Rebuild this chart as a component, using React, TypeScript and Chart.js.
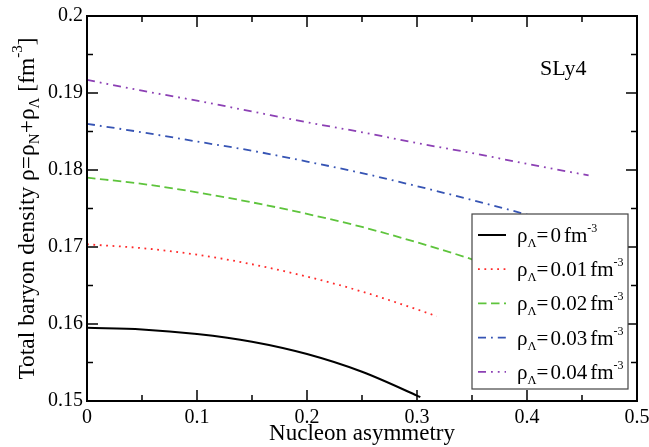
import { useEffect, useRef } from "react";
import { Chart, registerables } from "chart.js";

Chart.register(...registerables);

const FONT = '"Liberation Serif", "Times New Roman", serif';
Chart.defaults.font.family = FONT;

// ---- data ----
const xBlack = [0, 0.05, 0.1, 0.15, 0.2, 0.25, 0.3, 0.303];
const yBlack = [0.1595, 0.1593, 0.1587, 0.1577, 0.1561, 0.1538, 0.1507, 0.1505];

const xRed = [0, 0.05, 0.1, 0.15, 0.2, 0.25, 0.3, 0.318];
const yRed = [0.17035, 0.16985, 0.169, 0.16776, 0.16616, 0.16421, 0.1619, 0.161];

const xGreen = [0, 0.05, 0.1, 0.15, 0.2, 0.25, 0.3, 0.35, 0.4, 0.45];
const yGreen = [0.179, 0.1782, 0.1771, 0.1758, 0.1743, 0.1726, 0.1706, 0.1684, 0.1659, 0.1632];

const xBlue = [0, 0.05, 0.1, 0.15, 0.2, 0.25, 0.3, 0.35, 0.4, 0.45];
const yBlue = [0.186, 0.1849, 0.1837, 0.1825, 0.1811, 0.1796, 0.1779, 0.1761, 0.1742, 0.1721];

const xPurple = [0, 0.05, 0.1, 0.15, 0.2, 0.25, 0.3, 0.35, 0.4, 0.456];
const yPurple = [0.1917, 0.1903, 0.189, 0.1876, 0.1862, 0.1849, 0.1835, 0.1822, 0.1808, 0.1793];

const seriesLambda = ["0", "0.01", "0.02", "0.03", "0.04"];

const xTickValues = [0, 0.1, 0.2, 0.3, 0.4, 0.5];
const xTickLabels = ["0", "0.1", "0.2", "0.3", "0.4", "0.5"];
const xMinorTicks = [0.05, 0.15, 0.25, 0.35, 0.45];
const yTickValues = [0.15, 0.16, 0.17, 0.18, 0.19, 0.2];
const yTickLabels = ["0.15", "0.16", "0.17", "0.18", "0.19", "0.2"];
const yMinorTicks = [0.155, 0.165, 0.175, 0.185, 0.195];

// ---- styles ----
const seriesColors = ["#000000", "#ff2a2a", "#5ec43c", "#3654b4", "#8c40b4"];
const seriesDashes: number[][] = [[], [1.8, 4.6], [8.5, 4.5], [8, 5, 1.8, 5], [8, 5, 1.8, 5, 1.8, 5]];

type Part = { t: string; size: number; dy: number; gap?: number };

function drawRich(ctx: CanvasRenderingContext2D, parts: Part[], x: number, y: number, measureOnly = false) {
  let cx = x;
  for (const p of parts) {
    if (p.gap) {
      cx += p.gap;
      continue;
    }
    ctx.font = `${p.size}px ${FONT}`;
    if (!measureOnly) ctx.fillText(p.t, cx, y + p.dy);
    cx += ctx.measureText(p.t).width;
  }
  return cx - x;
}

const decorPlugin = {
  id: "decor",
  afterDraw(chart: any) {
    const { ctx, chartArea: a, scales } = chart;
    const xs = scales.x;
    const ys = scales.y;
    ctx.save();
    ctx.strokeStyle = "#000";
    ctx.fillStyle = "#000";
    ctx.lineWidth = 1.5;
    const seg = (x1: number, y1: number, x2: number, y2: number) => {
      ctx.beginPath();
      ctx.moveTo(x1, y1);
      ctx.lineTo(x2, y2);
      ctx.stroke();
    };
    const major = 11;
    const minor = 6;
    xTickValues.forEach((v) => {
      const p = xs.getPixelForValue(v);
      seg(p, a.bottom, p, a.bottom - major);
      seg(p, a.top, p, a.top + major);
    });
    xMinorTicks.forEach((v) => {
      const p = xs.getPixelForValue(v);
      seg(p, a.bottom, p, a.bottom - minor);
      seg(p, a.top, p, a.top + minor);
    });
    yTickValues.forEach((v) => {
      const p = ys.getPixelForValue(v);
      seg(a.left, p, a.left + major, p);
      seg(a.right, p, a.right - major, p);
    });
    yMinorTicks.forEach((v) => {
      const p = ys.getPixelForValue(v);
      seg(a.left, p, a.left + minor, p);
      seg(a.right, p, a.right - minor, p);
    });

    // frame
    ctx.lineWidth = 2;
    ctx.strokeRect(a.left, a.top, a.right - a.left, a.bottom - a.top);

    // legend
    const lx = a.right - 165;
    const rx = a.right - 9;
    const ty = a.top + 198;
    const by = a.bottom - 12;
    ctx.fillStyle = "#fff";
    ctx.fillRect(lx, ty, rx - lx, by - ty);
    ctx.strokeStyle = "#444";
    ctx.lineWidth = 1.2;
    ctx.strokeRect(lx, ty, rx - lx, by - ty);
    chart.data.datasets.forEach((ds: any, i: number) => {
      const ry = ty + 21 + i * 34.2;
      ctx.strokeStyle = ds.borderColor;
      ctx.lineWidth = ds.borderWidth;
      ctx.setLineDash(ds.borderDash || []);
      seg(lx + 6, ry, lx + 34, ry);
      ctx.setLineDash([]);
      ctx.fillStyle = "#000";
      ctx.textBaseline = "alphabetic";
      ctx.textAlign = "left";
      drawRich(
        ctx,
        [
          { t: "ρ", size: 21, dy: 0 },
          { t: "Λ", size: 12.5, dy: 5 },
          { t: "=", size: 21, dy: 0 },
          { t: "", size: 21, dy: 0, gap: 2 },
          { t: seriesLambda[i], size: 21, dy: 0 },
          { t: "", size: 21, dy: 0, gap: 3 },
          { t: "fm", size: 21, dy: 0 },
          { t: "-3", size: 12, dy: -10 },
        ],
        lx + 45,
        ry + 7
      );
    });

    // SLy4 label
    ctx.fillStyle = "#000";
    ctx.font = `22px ${FONT}`;
    ctx.textAlign = "left";
    ctx.textBaseline = "alphabetic";
    ctx.fillText("SLy4", a.right - 97, a.top + 59);

    // x title
    ctx.font = `23px ${FONT}`;
    ctx.textAlign = "center";
    ctx.fillText("Nucleon asymmetry", (a.left + a.right) / 2, 440);

    // y title
    ctx.textAlign = "left";
    const yParts: Part[] = [
      { t: "Total baryon density ρ=ρ", size: 23.5, dy: 0 },
      { t: "N", size: 15, dy: 5 },
      { t: "+ρ", size: 23.5, dy: 0 },
      { t: "Λ", size: 15, dy: 5 },
      { t: " [fm", size: 23.5, dy: 0 },
      { t: "-3", size: 15, dy: -12 },
      { t: "]", size: 23.5, dy: 0 },
    ];
    const w = drawRich(ctx, yParts, 0, 0, true);
    ctx.translate(34, (a.top + a.bottom) / 2);
    ctx.rotate(-Math.PI / 2);
    drawRich(ctx, yParts, -w / 2, 0);
    ctx.restore();
  },
};

function toPoints(xs: number[], ys: number[]) {
  return xs.map((x, i) => ({ x, y: ys[i] }));
}

export default function App() {
  const ref = useRef<HTMLCanvasElement | null>(null);
  useEffect(() => {
    document.body.style.margin = "0";
    if (!ref.current) return;
    const seriesData = [
      toPoints(xBlack, yBlack),
      toPoints(xRed, yRed),
      toPoints(xGreen, yGreen),
      toPoints(xBlue, yBlue),
      toPoints(xPurple, yPurple),
    ];
    const chart = new Chart(ref.current, {
      type: "line",
      data: {
        datasets: seriesData.map((d, i) => ({
          label: `ρΛ= ${seriesLambda[i]} fm-3`,
          data: d,
          borderColor: seriesColors[i],
          borderWidth: i === 0 ? 2 : 1.8,
          borderDash: seriesDashes[i],
          pointRadius: 0,
          fill: false,
          cubicInterpolationMode: "monotone",
        })),
      },
      options: {
        animation: false,
        responsive: true,
        maintainAspectRatio: false,
        layout: { padding: { top: 16, right: 12, left: 0, bottom: 0 } },
        plugins: { legend: { display: false }, tooltip: { enabled: false } },
        scales: {
          x: {
            type: "linear",
            min: 0,
            max: 0.5,
            grid: { display: false, drawTicks: false },
            border: { display: false },
            afterBuildTicks: (s: any) => {
              s.ticks = xTickValues.map((v) => ({ value: v }));
            },
            afterFit: (s: any) => {
              s.height = 46;
              s.paddingLeft = 0;
              s.paddingRight = 0;
            },
            ticks: {
              callback: (_v: any, i: number) => xTickLabels[i],
              font: { family: FONT, size: 20 },
              color: "#000",
              padding: 5,
              maxRotation: 0,
            },
          },
          y: {
            type: "linear",
            min: 0.15,
            max: 0.2,
            grid: { display: false, drawTicks: false },
            border: { display: false },
            afterBuildTicks: (s: any) => {
              s.ticks = yTickValues.map((v) => ({ value: v }));
            },
            afterFit: (s: any) => {
              s.width = 87;
              s.paddingTop = 0;
              s.paddingBottom = 0;
            },
            ticks: {
              callback: (_v: any, i: number) => yTickLabels[i],
              font: { family: FONT, size: 20 },
              color: "#000",
              padding: 4,
            },
          },
        },
      },
      plugins: [decorPlugin],
    });
    return () => chart.destroy();
  }, []);
  return (
    <div style={{ width: 649, height: 447, position: "relative" }}>
      <canvas ref={ref} />
    </div>
  );
}
